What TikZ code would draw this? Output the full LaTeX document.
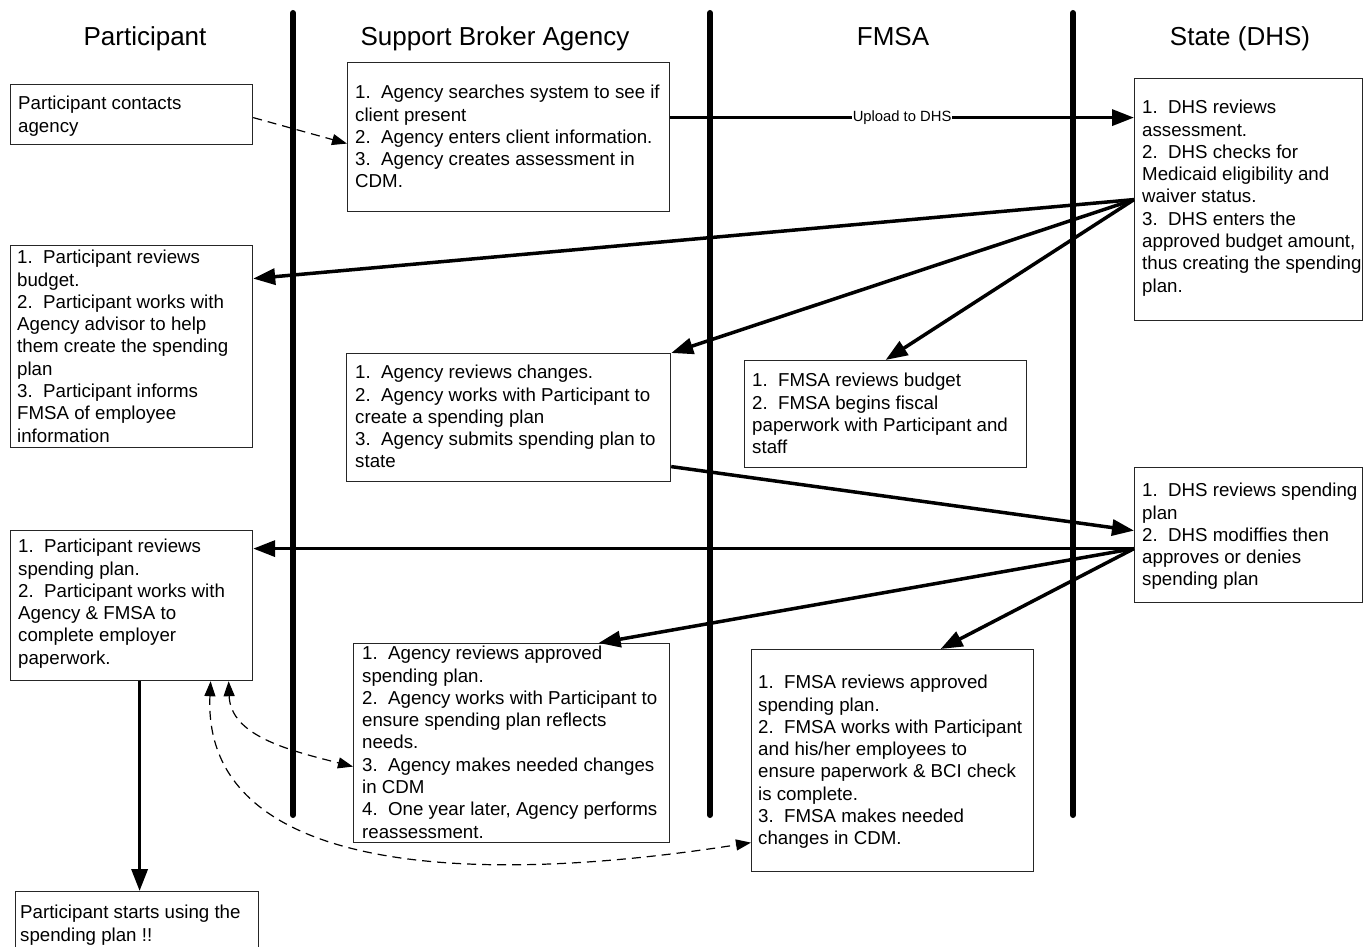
\documentclass[tikz,border=0pt]{standalone}
\usepackage{fontspec}
\setmainfont{Liberation Sans}
\usetikzlibrary{arrows.meta,calc}
\begin{document}
\begin{tikzpicture}[x=1pt,y=-1pt,
  box/.style={draw=black!85,line width=1.2pt,fill=white,rectangle,inner sep=0pt,anchor=north west},
  txt/.style={font=\fontsize{18.7}{22.3}\selectfont,align=left,inner sep=0pt,anchor=north west},
  hdr/.style={font=\fontsize{26}{30}\selectfont,inner sep=0pt,anchor=base},
  lbl/.style={font=\fontsize{14.8}{17}\selectfont,fill=white,inner sep=1pt},
  lane/.style={line width=6pt,line cap=round},
  flow/.style={line width=3.5pt,-{Triangle[length=22pt,width=16pt]}},
  dflow/.style={line width=1.2pt,dash pattern=on 9pt off 6pt,-{Triangle[length=15pt,width=11pt]}},
  dboth/.style={line width=1.2pt,dash pattern=on 9pt off 6pt,{Triangle[length=15pt,width=11pt]}-{Triangle[length=15pt,width=11pt]}}]
\useasboundingbox (0,0) rectangle (1363,947);
\clip (0,0) rectangle (1363,947);
\fill[white] (0,0) rectangle (1363,947);

% headers
\node[hdr] (h1) at (145,46) {Participant};
\node[hdr] (h2) at (495,46) {Support Broker Agency};
\node[hdr] (h3) at (893,46) {FMSA};
\node[hdr] (h4) at (1240,46) {State (DHS)};

% lanes
\coordinate (l1t) at (293,13); \coordinate (l1b) at (293,815);
\coordinate (l2t) at (710,13); \coordinate (l2b) at (710,815);
\coordinate (l3t) at (1073,13); \coordinate (l3b) at (1073,815);
\draw[lane] (l1t) -- (l1b);
\draw[lane] (l2t) -- (l2b);
\draw[lane] (l3t) -- (l3b);

% boxes
\node[box,minimum width=242pt,minimum height=60pt] (b1) at (10,84) {};
\node[box,minimum width=322pt,minimum height=149pt] (b2) at (347,62) {};
\node[box,minimum width=228pt,minimum height=242pt] (b3) at (1134,78) {};
\node[box,minimum width=242pt,minimum height=202pt] (b4) at (10,245) {};
\node[box,minimum width=324pt,minimum height=128pt] (b5) at (346,353) {};
\node[box,minimum width=282pt,minimum height=107pt] (b6) at (744,360) {};
\node[box,minimum width=228pt,minimum height=135pt] (b7) at (1134,467) {};
\node[box,minimum width=242pt,minimum height=150pt] (b8) at (10,530) {};
\node[box,minimum width=316pt,minimum height=199pt] (b9) at (353,643) {};
\node[box,minimum width=282pt,minimum height=222pt] (b10) at (751,649) {};
\node[box,minimum width=243pt,minimum height=80pt] (b11) at (15,891) {};

% texts
\node[txt] (t1) at (18,96) {Participant contacts\\agency};
\node[txt] (t2) at (355,85) {1.\ \ Agency searches system to see if\\client present\\2.\ \ Agency enters client information.\\3.\ \ Agency creates assessment in\\CDM.};
\node[txt] (t3) at (1142,100) {1.\ \ DHS reviews\\assessment.\\2.\ \ DHS checks for\\Medicaid eligibility and\\waiver status.\\3.\ \ DHS enters the\\approved budget amount,\\thus creating the spending\\plan.};
\node[txt] (t4) at (17,250) {1.\ \ Participant reviews\\budget.\\2.\ \ Participant works with\\Agency advisor to help\\them create the spending\\plan\\3.\ \ Participant informs\\FMSA of employee\\information};
\node[txt] (t5) at (355,365) {1.\ \ Agency reviews changes.\\2.\ \ Agency works with Participant to\\create a spending plan\\3.\ \ Agency submits spending plan to\\state};
\node[txt] (t6) at (752,373) {1.\ \ FMSA reviews budget\\2.\ \ FMSA begins fiscal\\paperwork with Participant and\\staff};
\node[txt] (t7) at (1142,483) {1.\ \ DHS reviews spending\\plan\\2.\ \ DHS modiffies then\\approves or denies\\spending plan};
\node[txt] (t8) at (18,539) {1.\ \ Participant reviews\\spending plan.\\2.\ \ Participant works with\\Agency \& FMSA to\\complete employer\\paperwork.};
\node[txt] (t9) at (362,646) {1.\ \ Agency reviews approved\\spending plan.\\2.\ \ Agency works with Participant to\\ensure spending plan reflects\\needs.\\3.\ \ Agency makes needed changes\\in CDM\\4.\ \ One year later, Agency performs\\reassessment.};
\node[txt] (t10) at (758,675) {1.\ \ FMSA reviews approved\\spending plan.\\2.\ \ FMSA works with Participant\\and his/her employees to\\ensure paperwork \& BCI check\\is complete.\\3.\ \ FMSA makes needed\\changes in CDM.};
\node[txt] (t11) at (20,905) {Participant starts using the\\spending plan !!};

% connectors
\draw[dflow] ([yshift=-3pt]b1.east) -- ([yshift=-6.5pt]b2.west);
\draw[flow] ([yshift=19.5pt]b2.east) -- node[lbl] (up) {Upload to DHS} ([yshift=82pt]b3.west);
\draw[flow] (b3.west) -- ([yshift=68pt]b4.east);
\draw[flow] (b3.west) -- (b5.north east);
\draw[flow] (b3.west) -- (b6.north);
\draw[flow] ([yshift=-49pt]b5.east) -- ([yshift=4.5pt]b7.west);
\draw[flow] ([yshift=-13.5pt]b7.west) -- ([yshift=57pt]b8.east);
\draw[flow] ([yshift=-13.5pt]b7.west) -- ([xshift=87pt]b9.north);
\draw[flow] ([yshift=-13.5pt]b7.west) -- ([xshift=48pt]b10.north);
\draw[flow] ([xshift=8pt]b8.south) -- ([xshift=2.5pt]b11.north);
\draw[dboth] ([xshift=97pt]b8.south) .. controls +(2,55) and +(-63,-16) .. ([yshift=-23.5pt]b9.west);
\draw[dboth] ([xshift=79pt]b8.south) .. controls +(-8,178) and +(-320,50) .. ([yshift=-82pt]b10.west);
\end{tikzpicture}
\end{document}
